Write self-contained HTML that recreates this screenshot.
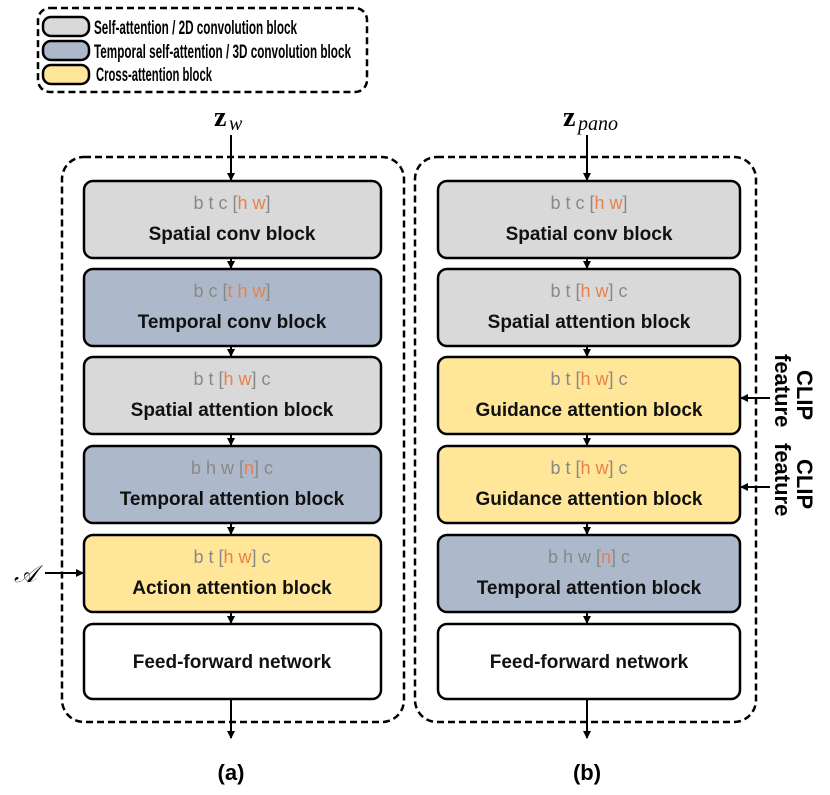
<!DOCTYPE html>
<html><head><meta charset="utf-8"><style>
html,body{margin:0;padding:0;background:#fff;}
svg text{font-family:"Liberation Sans",sans-serif;}
.t{font-size:19px;font-weight:bold;fill:#111;text-anchor:middle;}
.s{font-size:18px;fill:#888;text-anchor:middle;}
.o{fill:#e8804a;}
.l{font-size:19px;font-weight:bold;}
.c{font-size:22px;font-weight:bold;}
</style></head><body>
<svg width="830" height="790" viewBox="0 0 830 790" xmlns="http://www.w3.org/2000/svg">
<defs><marker id="ar" markerWidth="8" markerHeight="8" refX="7" refY="4" orient="auto" markerUnits="userSpaceOnUse"><path d="M0,0 L8,4 L0,8 z" fill="#000"/></marker></defs>
<rect x="38" y="8" width="329" height="84" rx="12" fill="none" stroke="#000" stroke-width="2.5" stroke-dasharray="7,4"/>
<rect x="43" y="17" width="46" height="19" rx="8" fill="#d9d9d9" stroke="#000" stroke-width="2.5"/>
<rect x="43" y="41" width="46" height="19" rx="8" fill="#adb9ca" stroke="#000" stroke-width="2.5"/>
<rect x="43" y="65" width="46" height="19" rx="8" fill="#ffe699" stroke="#000" stroke-width="2.5"/>
<text class="l" x="94" y="34" textLength="203" lengthAdjust="spacingAndGlyphs">Self-attention / 2D convolution block</text>
<text class="l" x="94" y="58" textLength="257" lengthAdjust="spacingAndGlyphs">Temporal self-attention / 3D convolution block</text>
<text class="l" x="96" y="81" textLength="116" lengthAdjust="spacingAndGlyphs">Cross-attention block</text>
<rect x="62" y="157" width="342" height="565" rx="22" fill="none" stroke="#000" stroke-width="2.5" stroke-dasharray="7,4"/>
<rect x="415" y="157" width="341" height="565" rx="22" fill="none" stroke="#000" stroke-width="2.5" stroke-dasharray="7,4"/>
<text x="214" y="126" style="font-family:'Liberation Serif',serif;font-size:28px;font-weight:bold">z</text>
<text x="229" y="130" style="font-family:'Liberation Serif',serif;font-size:20px;font-style:italic">w</text>
<text x="563" y="126" style="font-family:'Liberation Serif',serif;font-size:28px;font-weight:bold">z</text>
<text x="578" y="130" style="font-family:'Liberation Serif',serif;font-size:20px;font-style:italic">pano</text>
<g stroke="#000" stroke-width="2" marker-end="url(#ar)">
<line x1="231" y1="135" x2="231" y2="180"/>
<line x1="587" y1="135" x2="587" y2="180"/>
<line x1="231" y1="258" x2="231" y2="268"/><line x1="231" y1="346" x2="231" y2="356"/><line x1="231" y1="434" x2="231" y2="445"/><line x1="231" y1="523" x2="231" y2="534"/><line x1="231" y1="612" x2="231" y2="623"/>
<line x1="587" y1="258" x2="587" y2="268"/><line x1="587" y1="346" x2="587" y2="356"/><line x1="587" y1="434" x2="587" y2="445"/><line x1="587" y1="523" x2="587" y2="534"/><line x1="587" y1="612" x2="587" y2="623"/>
<line x1="231" y1="699" x2="231" y2="738"/>
<line x1="587" y1="699" x2="587" y2="738"/>
<line x1="45" y1="573" x2="83" y2="573"/>
<line x1="770" y1="398" x2="741" y2="398"/>
<line x1="770" y1="487" x2="741" y2="487"/>
</g>
<text x="14" y="582" style="font-family:'Liberation Serif',serif;font-size:24px;font-style:italic">𝒜</text>
<g stroke="#000" stroke-width="2.5">
<rect x="84" y="181" width="297" height="77" rx="9" fill="#d9d9d9"/>
<rect x="84" y="269" width="297" height="77" rx="9" fill="#adb9ca"/>
<rect x="84" y="357" width="297" height="77" rx="9" fill="#d9d9d9"/>
<rect x="84" y="446" width="297" height="77" rx="9" fill="#adb9ca"/>
<rect x="84" y="535" width="297" height="77" rx="9" fill="#ffe699"/>
<rect x="84" y="624" width="297" height="75" rx="9" fill="#fff"/>
<rect x="438" y="181" width="302" height="77" rx="9" fill="#d9d9d9"/>
<rect x="438" y="269" width="302" height="77" rx="9" fill="#d9d9d9"/>
<rect x="438" y="357" width="302" height="77" rx="9" fill="#ffe699"/>
<rect x="438" y="446" width="302" height="77" rx="9" fill="#ffe699"/>
<rect x="438" y="535" width="302" height="77" rx="9" fill="#adb9ca"/>
<rect x="438" y="624" width="302" height="75" rx="9" fill="#fff"/>
</g>
<text class="s" x="232" y="209">b t c [<tspan class="o">h w</tspan>]</text>
<text class="t" x="232" y="240">Spatial conv block</text>
<text class="s" x="232" y="297">b c [<tspan class="o">t h w</tspan>]</text>
<text class="t" x="232" y="328">Temporal conv block</text>
<text class="s" x="232" y="385">b t [<tspan class="o">h w</tspan>] c</text>
<text class="t" x="232" y="416">Spatial attention block</text>
<text class="s" x="232" y="474">b h w [<tspan class="o">n</tspan>] c</text>
<text class="t" x="232" y="505">Temporal attention block</text>
<text class="s" x="232" y="563">b t [<tspan class="o">h w</tspan>] c</text>
<text class="t" x="232" y="594">Action attention block</text>
<text class="t" x="232" y="668">Feed-forward network</text>
<text class="s" x="589" y="209">b t c [<tspan class="o">h w</tspan>]</text>
<text class="t" x="589" y="240">Spatial conv block</text>
<text class="s" x="589" y="297">b t [<tspan class="o">h w</tspan>] c</text>
<text class="t" x="589" y="328">Spatial attention block</text>
<text class="s" x="589" y="385">b t [<tspan class="o">h w</tspan>] c</text>
<text class="t" x="589" y="416">Guidance attention block</text>
<text class="s" x="589" y="474">b t [<tspan class="o">h w</tspan>] c</text>
<text class="t" x="589" y="505">Guidance attention block</text>
<text class="s" x="589" y="563">b h w [<tspan class="o">n</tspan>] c</text>
<text class="t" x="589" y="594">Temporal attention block</text>
<text class="t" x="589" y="668">Feed-forward network</text>
<g transform="translate(779,354) rotate(90)"><text class="c" x="16" y="-18">CLIP</text><text class="c" x="0" y="4">feature</text></g>
<g transform="translate(779,443) rotate(90)"><text class="c" x="16" y="-18">CLIP</text><text class="c" x="0" y="4">feature</text></g>
<text x="231" y="780" style="font-size:22px;font-weight:bold;text-anchor:middle">(a)</text>
<text x="587" y="780" style="font-size:22px;font-weight:bold;text-anchor:middle">(b)</text>
</svg>
</body></html>
